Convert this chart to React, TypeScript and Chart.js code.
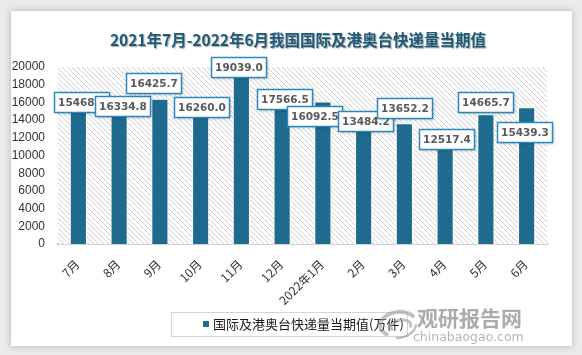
import React, { useEffect, useRef } from 'react';
import { Chart, registerables } from 'chart.js';

Chart.register(...registerables);

const categories = ['7月', '8月', '9月', '10月', '11月', '12月', '2022年1月', '2月', '3月', '4月', '5月', '6月'];
const values = [15468.0, 16334.8, 16425.7, 16260.0, 19039.0, 17566.5, 16092.5, 13484.2, 13652.2, 12517.4, 14665.7, 15439.3];
const yMin = 0;
const yMax = 20000;
const yStep = 2000;
const titleText = '2021年7月-2022年6月我国国际及港奥台快递量当期值';
const seriesName = '国际及港奥台快递量当期值(万件)';
const watermarkCn = '观研报告网';
const watermarkEn = 'chinabaogao.com';
// label box offsets (dx, dy) from the top centre of each bar
const labelOffsets: [number, number][] = [
  [3, -5], [3, 7], [-6, -16], [1, 7], [-3, -9], [2, 10],
  [-8, 14], [2, -4], [0, -15], [1, 6], [0, -12], [-2, 25],
];

const BAR_COLOR = '#1F6B8F';

function makeHatch(ctx: CanvasRenderingContext2D) {
  const c = document.createElement('canvas');
  c.width = 5;
  c.height = 5;
  const g = c.getContext('2d')!;
  g.fillStyle = '#ffffff';
  g.fillRect(0, 0, 5, 5);
  g.strokeStyle = '#cfcfcf';
  g.lineWidth = 1;
  for (let k = -1; k <= 1; k++) {
    g.beginPath();
    g.moveTo(k * 5, 0);
    g.lineTo(k * 5 + 5, 5);
    g.stroke();
  }
  return ctx.createPattern(c, 'repeat');
}

const decorPlugin = {
  id: 'decor',
  beforeDatasetsDraw(chart: any) {
    const { ctx, chartArea } = chart;
    ctx.save();
    const pat = makeHatch(ctx);
    if (pat) ctx.fillStyle = pat;
    ctx.fillRect(chartArea.left, chartArea.top, chartArea.right - chartArea.left, chartArea.bottom - chartArea.top);
    ctx.restore();
  },
  afterDatasetsDraw(chart: any) {
    const { ctx } = chart;
    const meta = chart.getDatasetMeta(0);
    ctx.save();
    ctx.font = 'bold 10.5px "DejaVu Sans"';
    meta.data.forEach((bar: any, i: number) => {
      const txt = values[i].toFixed(1);
      const tw = ctx.measureText(txt).width;
      const w = Math.round(tw + 7);
      const h = 20;
      const off = labelOffsets[i] || [0, -12];
      const cx = bar.x + off[0];
      const cy = bar.y + off[1];
      const x0 = Math.round(cx - w / 2) + 0.5;
      const y0 = Math.round(cy - h / 2) + 0.5;
      ctx.save();
      ctx.shadowColor = 'rgba(0,0,0,0.3)';
      ctx.shadowBlur = 3;
      ctx.shadowOffsetX = 1;
      ctx.shadowOffsetY = 1;
      ctx.fillStyle = '#ffffff';
      ctx.fillRect(x0, y0, w, h);
      ctx.restore();
      ctx.strokeStyle = '#2B88BC';
      ctx.lineWidth = 1.5;
      ctx.strokeRect(x0, y0, w, h);
      ctx.fillStyle = '#595959';
      ctx.textAlign = 'center';
      ctx.textBaseline = 'middle';
      ctx.fillText(txt, x0 + w / 2, y0 + h / 2 + 0.5);
    });
    ctx.restore();
  },
  afterDraw(chart: any) {
    const { ctx, chartArea } = chart;

    // rotated category labels
    const xScale = chart.scales.x;
    ctx.save();
    ctx.font = '12px "Noto Sans CJK SC"';
    ctx.fillStyle = '#333333';
    ctx.textAlign = 'right';
    ctx.textBaseline = 'middle';
    categories.forEach((lab, i) => {
      const x = xScale.getPixelForTick(i) - 1;
      const y = chartArea.bottom + 18;
      ctx.save();
      ctx.translate(x, y);
      ctx.rotate(-Math.PI / 4);
      ctx.fillText(lab, 0, 0);
      ctx.restore();
    });
    ctx.restore();

    // title
    ctx.save();
    ctx.font = 'bold 15.5px "Noto Sans CJK SC"';
    ctx.textAlign = 'center';
    ctx.textBaseline = 'middle';
    ctx.shadowColor = 'rgba(0,0,0,0.35)';
    ctx.shadowOffsetX = 1;
    ctx.shadowOffsetY = 1;
    ctx.shadowBlur = 1;
    ctx.fillStyle = '#1E5B7A';
    ctx.fillText(titleText, 298, 40);
    ctx.restore();

    // legend
    ctx.save();
    ctx.strokeStyle = '#d4d4d4';
    ctx.lineWidth = 1;
    ctx.strokeRect(171.5, 312.5, 236, 24);
    ctx.fillStyle = BAR_COLOR;
    ctx.fillRect(203, 321, 6, 6);
    ctx.font = '13px "Noto Sans CJK SC"';
    ctx.fillStyle = '#1a1a1a';
    ctx.textAlign = 'left';
    ctx.textBaseline = 'middle';
    ctx.fillText(seriesName, 213, 324);
    ctx.restore();

    // watermark
    ctx.save();
    ctx.globalAlpha = 0.6;
    ctx.strokeStyle = '#9a9a9a';
    ctx.lineCap = 'round';
    ctx.lineWidth = 4;
    ctx.beginPath();
    ctx.ellipse(398, 324, 18, 12, -0.15, Math.PI * 0.75, Math.PI * 1.85);
    ctx.stroke();
    ctx.lineWidth = 3;
    ctx.beginPath();
    ctx.ellipse(401, 326, 10, 6, -0.15, Math.PI * 0.9, Math.PI * 2.1);
    ctx.stroke();
    ctx.lineWidth = 2.5;
    ctx.beginPath();
    ctx.ellipse(398, 326, 18, 12, -0.15, Math.PI * 0.05, Math.PI * 0.55);
    ctx.stroke();
    ctx.restore();

    ctx.save();
    ctx.globalAlpha = 0.85;
    ctx.fillStyle = '#9c9c9c';
    ctx.font = 'bold 21px "Noto Sans CJK SC"';
    ctx.textAlign = 'left';
    ctx.textBaseline = 'middle';
    ctx.fillText(watermarkCn, 417, 318);
    ctx.fillStyle = '#a8a8a8';
    ctx.font = '12.5px "DejaVu Sans"';
    ctx.fillText(watermarkEn, 413, 338);
    ctx.restore();
  },
};

export default function App() {
  const ref = useRef<HTMLCanvasElement | null>(null);

  useEffect(() => {
    if (!ref.current) return;
    const chart = new Chart(ref.current, {
      type: 'bar',
      data: {
        labels: categories,
        datasets: [
          {
            label: seriesName,
            data: values,
            backgroundColor: BAR_COLOR,
            borderColor: '#ffffff',
            borderWidth: 1,
            borderSkipped: 'bottom',
            categoryPercentage: 1,
            barPercentage: 0.42,
          },
        ],
      },
      options: {
        animation: false,
        responsive: false,
        devicePixelRatio: 1,
        layout: { padding: { left: 0, right: 35, top: 67, bottom: 51 } },
        plugins: {
          legend: { display: false },
          title: { display: false },
          tooltip: { enabled: false },
        },
        scales: {
          x: {
            grid: { display: false, drawTicks: false },
            border: { display: true, color: '#a6a6a6', width: 1.5 },
            ticks: { display: false },
            afterFit(scale: any) {
              scale.height = 60;
            },
          },
          y: {
            min: yMin,
            max: yMax,
            grid: { display: false, drawTicks: false },
            border: { display: false },
            ticks: {
              stepSize: yStep,
              padding: 13,
              color: '#333333',
              font: { family: '"Liberation Sans"', size: 12 },
              callback: (v: any) => String(v),
            },
            afterFit(scale: any) {
              scale.width = 58;
            },
          },
        },
      },
      plugins: [decorPlugin],
    });
    return () => chart.destroy();
  }, []);

  return (
    <div style={{ position: 'fixed', left: 0, top: 0, width: 582, height: 355, background: '#ebebeb', overflow: 'hidden' }}>
      <div
        style={{
          position: 'absolute',
          left: 11,
          top: 11,
          width: 561,
          height: 335,
          background: '#ffffff',
          boxShadow: '0 0 6px 1px rgba(0,0,0,0.18)',
        }}
      />
      <canvas
        ref={ref}
        width={582}
        height={355}
        style={{ position: 'absolute', left: 0, top: 0, width: 582, height: 355 }}
      />
    </div>
  );
}
